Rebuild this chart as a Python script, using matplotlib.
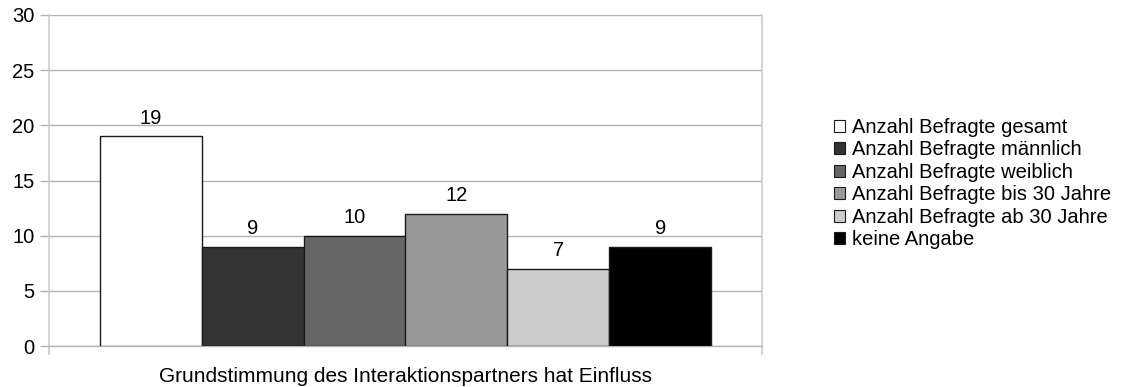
import matplotlib
matplotlib.use("Agg")
import matplotlib.pyplot as plt
from matplotlib.patches import Patch

plt.rcParams['font.family'] = ['Liberation Sans', 'DejaVu Sans']

category = "Grundstimmung des Interaktionspartners hat Einfluss"
series = [
    "Anzahl Befragte gesamt",
    "Anzahl Befragte männlich",
    "Anzahl Befragte weiblich",
    "Anzahl Befragte bis 30 Jahre",
    "Anzahl Befragte ab 30 Jahre",
    "keine Angabe",
]
values = [19, 9, 10, 12, 7, 9]
colors = ["#ffffff", "#333333", "#666666", "#999999", "#cccccc", "#000000"]
yticks = [0, 5, 10, 15, 20, 25, 30]

FS = 14.5

fig = plt.figure(figsize=(11.21, 3.87), dpi=100)
ax = fig.add_axes([49 / 1121, 1 - 346 / 387, (762 - 49) / 1121, (346 - 15) / 387])

n = len(values)
group_width = 0.858
bw = group_width / n
x0 = -group_width / 2 + bw / 2
for i, (v, c) in enumerate(zip(values, colors)):
    xc = x0 + i * bw
    ax.bar(xc, v, width=bw, color=c, edgecolor="#1a1a1a", linewidth=1.0, zorder=3)
    ax.annotate(str(v), (xc, v), xytext=(0, 6), textcoords="offset points",
                ha="center", va="bottom", fontsize=FS, color="#000000")

ax.set_xlim(-0.5, 0.5)
ax.set_ylim(0, 30)
ax.set_yticks(yticks)
ax.set_yticklabels([str(t) for t in yticks], fontsize=FS)
ax.yaxis.grid(True, color="#b3b3b3", linewidth=1.0, zorder=0)
ax.tick_params(axis="y", length=6.5, color="#b3b3b3", width=1.0, pad=4)
ax.set_xticks([-0.5, 0.5])
ax.set_xticklabels(["", ""])
ax.tick_params(axis="x", length=6.5, color="#cccccc", width=1.2)
ax.annotate(category, (0.5, 0), xycoords="axes fraction", xytext=(0, -15),
            textcoords="offset points", ha="center", va="top", fontsize=15)

for side in ("left", "right"):
    ax.spines[side].set_color("#cccccc")
    ax.spines[side].set_linewidth(1.2)
ax.spines["bottom"].set_color("#b3b3b3")
ax.spines["bottom"].set_linewidth(1.0)
ax.spines["top"].set_visible(False)

handles = [Patch(facecolor=c, edgecolor="#1a1a1a", linewidth=0.8) for c in colors]
fig.legend(handles, series, loc="upper left", bbox_to_anchor=(834 / 1121, 1 - 118 / 387),
           frameon=False, fontsize=FS, handlelength=0.55, handleheight=0.55,
           handletextpad=0.35, labelspacing=0.17, borderaxespad=0, borderpad=0)

fig.savefig("out.png", dpi=100)
